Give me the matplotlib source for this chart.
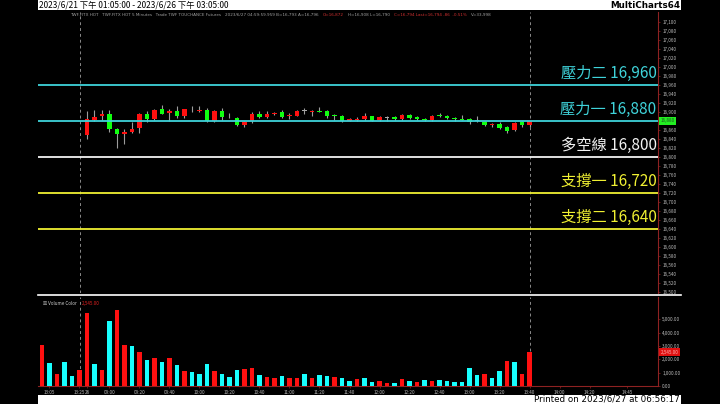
import matplotlib
matplotlib.use('Agg')
import matplotlib.pyplot as plt
from matplotlib.patches import Rectangle
from matplotlib.lines import Line2D
import numpy as np

plt.rcParams['font.family'] = ['Noto Sans CJK TC', 'DejaVu Sans']

# 5分K資料 (6/21 最後6根 + 6/26 日盤 60 根)
opens = [17190, 17185, 17188, 17192, 17182, 17186,
         16849, 16882, 16890, 16896, 16862, 16850, 16856, 16864, 16895, 16884,
         16906, 16897, 16902, 16890, 16906, 16903, 16904, 16881, 16903, 16888,
         16886, 16871, 16881, 16895, 16889, 16895, 16899, 16891, 16892, 16902,
         16901, 16903, 16902, 16893, 16892, 16881, 16882, 16884, 16891, 16882,
         16887, 16888, 16884, 16893, 16888, 16885, 16882, 16893, 16890, 16887,
         16885, 16884, 16880, 16878, 16870, 16873, 16867, 16860, 16878, 16870]
highs = [17200, 17192, 17195, 17194, 17188, 17196,
         16903, 16904, 16904, 16904, 16864, 16862, 16877, 16897, 16902, 16907,
         16916, 16907, 16913, 16907, 16913, 16913, 16908, 16904, 16908, 16897,
         16889, 16881, 16899, 16902, 16902, 16899, 16905, 16897, 16904, 16908,
         16904, 16910, 16904, 16895, 16893, 16887, 16889, 16897, 16892, 16890,
         16892, 16890, 16895, 16896, 16892, 16887, 16893, 16897, 16893, 16889,
         16893, 16887, 16891, 16880, 16876, 16877, 16868, 16878, 16880, 16880]
lows = [17178, 17180, 17184, 17178, 17179, 17183,
        16839, 16880, 16882, 16855, 16821, 16828, 16854, 16854, 16878, 16882,
        16895, 16881, 16887, 16887, 16901, 16901, 16878, 16878, 16882, 16886,
        16869, 16866, 16875, 16887, 16886, 16893, 16886, 16884, 16890, 16896,
        16890, 16899, 16887, 16882, 16878, 16880, 16881, 16882, 16880, 16880,
        16881, 16882, 16882, 16884, 16882, 16881, 16881, 16888, 16884, 16881,
        16882, 16873, 16878, 16869, 16867, 16862, 16853, 16858, 16867, 16867]
closes = [17185, 17188, 17192, 17182, 17186, 17190,
          16884, 16889, 16896, 16862, 16850, 16856, 16863, 16896, 16884, 16904,
          16896, 16903, 16890, 16906, 16906, 16905, 16880, 16903, 16889, 16888,
          16871, 16877, 16895, 16889, 16896, 16898, 16888, 16893, 16902, 16902,
          16903, 16900, 16890, 16890, 16880, 16884, 16885, 16890, 16881, 16889,
          16887, 16884, 16893, 16887, 16884, 16882, 16892, 16890, 16886, 16884,
          16883, 16877, 16880, 16870, 16874, 16865, 16858, 16876, 16870, 16880]
volumes = [3075, 1725, 925, 1800, 750, 1175,
           5450, 1625, 1225, 4850, 5725, 3100, 2975, 2550, 1950, 2125,
           1800, 2125, 1550, 1125, 1050, 925, 1650, 1125, 900, 650,
           1200, 1275, 1375, 825, 650, 600, 725, 600, 625, 925,
           600, 825, 725, 675, 575, 375, 525, 575, 325, 375,
           225, 225, 525, 375, 275, 450, 400, 475, 400, 325,
           325, 1325, 825, 900, 600, 1150, 1900, 1800, 925, 2545]
vol_dir = list('RCRCCR'
               'RCRCRRCRCR'
               'CRCRCCCRCC'
               'CRRCRRCRRC'
               'RCCRCCRCCR'
               'RCRCRCRCCC'
               'CCCRCCRCR')

tick_pos = [1, 5, 6, 9, 13, 17, 21, 25, 29, 33, 37, 41, 45, 49, 53, 57, 61, 65, 69, 73, 78]
tick_labels = ['13:05', '13:25', '26', '09:00', '09:20', '09:40', '10:00', '10:20',
               '10:40', '11:00', '11:20', '11:40', '12:00', '12:20', '12:40', '13:00',
               '13:20', '13:40', '14:00', '14:20', '14:45']

levels = [16960, 16880, 16800, 16720, 16640]
level_names = ['壓力二', '壓力一', '多空線', '支撐一', '支撐二']
level_colors = ['#3fd3da', '#3fd3da', '#f2f2f2', '#f0f032', '#f0f032']

status_parts = [('TWF.FITX HOT   TWF.FITX HOT 5 Minutes   Trade TWF TOUCHANCE Futures', '#a0a0a0'),
                ('2023/6/27 04:59:59.959 B=16,793 A=16,796', '#a0a0a0'),
                ('O=16,872', '#d03030'),
                ('H=16,908 L=16,790', '#a0a0a0'),
                ('C=16,794 Last=16,794 -86  -0.51%', '#d03030'),
                ('V=33,998', '#a0a0a0')]

W, H = 720, 404
fig = plt.figure(figsize=(W / 100, H / 100), dpi=100, facecolor='black')

def fx(px):
    return px / W

def fy(py):
    return 1 - py / H

axis_red = '#8e2222'
lab_col = '#bdbdbd'
x = np.arange(len(opens))
xlim = (-0.53, 82.13)

# 價格區
ax = fig.add_axes([fx(38), fy(293), fx(658) - fx(38), (293 - 12) / H], facecolor='black')
ax.set_xlim(*xlim)
ax.set_ylim(16498, 17122)

o = np.array(opens); c = np.array(closes)
cols = np.where(c > o, '#ff1010', np.where(c < o, '#10ff10', '#a8a8a8'))
ax.vlines(x, lows, highs, color='#9c9c9c', lw=0.8, zorder=2)
body_h = np.maximum(np.abs(c - o), 1.6)
ax.bar(x, body_h, bottom=np.minimum(o, c), width=0.66, color=cols, zorder=3)

for lv, nm, col in zip(levels, level_names, level_colors):
    ax.axhline(lv, color=col, lw=1.3, zorder=4)
    ax.annotate(f'{nm} {lv:,}', xy=(1, lv), xycoords=('axes fraction', 'data'),
                xytext=(-1, 2.5), textcoords='offset points', ha='right', va='bottom',
                fontsize=11, color=col, zorder=5)

ax.axvline(5.1, color='#8a8a8a', lw=0.7, ls=(0, (3, 3)), zorder=1)
ax.axvline(65, color='#8a8a8a', lw=0.7, ls=(0, (3, 3)), zorder=1)

ax.yaxis.tick_right()
ax.set_yticks(np.arange(16500, 17101, 20))
ax.set_yticklabels([f'{v:,}' for v in range(16500, 17101, 20)])
ax.tick_params(axis='y', labelsize=3.3, colors=lab_col, length=1.5, width=0.5, pad=1.5)
ax.tick_params(axis='y', color=axis_red)
ax.set_xticks([])
for s in ['left', 'top', 'bottom']:
    ax.spines[s].set_visible(False)
ax.spines['right'].set_color(axis_red)
ax.spines['right'].set_linewidth(0.8)

ax.annotate(f'{closes[-1]:,}', xy=(1, closes[-1]), xycoords=('axes fraction', 'data'),
            xytext=(2, 0), textcoords='offset points', ha='left', va='center',
            fontsize=3.3, color='#205020', annotation_clip=False,
            bbox=dict(boxstyle='square,pad=0.3', fc='#22ee22', ec='none'))

# 成交量區
axv = fig.add_axes([fx(38), fy(386), fx(658) - fx(38), (386 - 297) / H], facecolor='black')
axv.set_xlim(*xlim)
axv.set_ylim(0, 6690)
vcols = ['#ff1010' if d == 'R' else '#18ffff' for d in vol_dir]
axv.bar(x, volumes, width=0.6, color=vcols, zorder=3)
axv.axvline(5.1, color='#8a8a8a', lw=0.7, ls=(0, (3, 3)), zorder=1)
axv.axvline(65, color='#8a8a8a', lw=0.7, ls=(0, (3, 3)), zorder=1)

axv.yaxis.tick_right()
axv.set_yticks(np.arange(0, 5001, 1000))
axv.set_yticklabels([f'{v:,.2f}' for v in range(0, 5001, 1000)])
axv.set_xticks(tick_pos)
axv.set_xticklabels(tick_labels)
axv.tick_params(labelsize=3.3, colors=lab_col, length=1.5, width=0.5, pad=1.5)
axv.tick_params(color=axis_red)
for s in ['left', 'top']:
    axv.spines[s].set_visible(False)
for s in ['right', 'bottom']:
    axv.spines[s].set_color(axis_red)
    axv.spines[s].set_linewidth(0.8)

axv.annotate(f'{volumes[-1]:,.2f}', xy=(1, volumes[-1]), xycoords=('axes fraction', 'data'),
             xytext=(2, 0), textcoords='offset points', ha='left', va='center',
             fontsize=3.3, color='#ffb0b0', annotation_clip=False,
             bbox=dict(boxstyle='square,pad=0.3', fc='#e01010', ec='none'))
vt = axv.text(0.008, 0.96, '☒ Volume Color', transform=axv.transAxes, fontsize=3.3,
              color='#d0d0d0', va='top', ha='left')
axv.annotate(f'{volumes[-1]:,.2f}', xy=(1, 0.5), xycoords=vt, xytext=(4, 0),
             textcoords='offset points', fontsize=3.3, color='#e02020',
             va='center', ha='left')

# 分隔線與上下白條
fig.add_artist(Line2D([fx(38), fx(681)], [fy(295), fy(295)], color='white', lw=1.2))
fig.patches.append(Rectangle((fx(38), fy(10)), fx(681) - fx(38), 10 / H,
                             transform=fig.transFigure, fc='white', ec='none'))
fig.patches.append(Rectangle((fx(38), 0), fx(681) - fx(38), 9 / H,
                             transform=fig.transFigure, fc='white', ec='none'))
fig.text(fx(39), fy(5), '2023/6/21 下午 01:05:00 - 2023/6/26 下午 03:05:00',
         fontsize=6, color='black', ha='left', va='center')
fig.text(fx(680), fy(5), 'MultiCharts64', fontsize=6.3, fontweight='bold',
         color='black', ha='right', va='center', family='DejaVu Sans')
fig.text(fx(680), fy(399.5), 'Printed on 2023/6/27 at 06:56:17', fontsize=6.3,
         color='black', ha='right', va='center', family='DejaVu Sans')

# 狀態列 (逐段接續排列)
prev = fig.text(fx(70), fy(15), status_parts[0][0], fontsize=3.0, color=status_parts[0][1],
                ha='left', va='center', family='DejaVu Sans')
for txt, col in status_parts[1:]:
    prev = ax.annotate(txt, xy=(1, 0.5), xycoords=prev, xytext=(3, 0),
                       textcoords='offset points', fontsize=3.0, color=col,
                       ha='left', va='center', family='DejaVu Sans',
                       annotation_clip=False)

fig.savefig('out.png', dpi=100, facecolor='black')
